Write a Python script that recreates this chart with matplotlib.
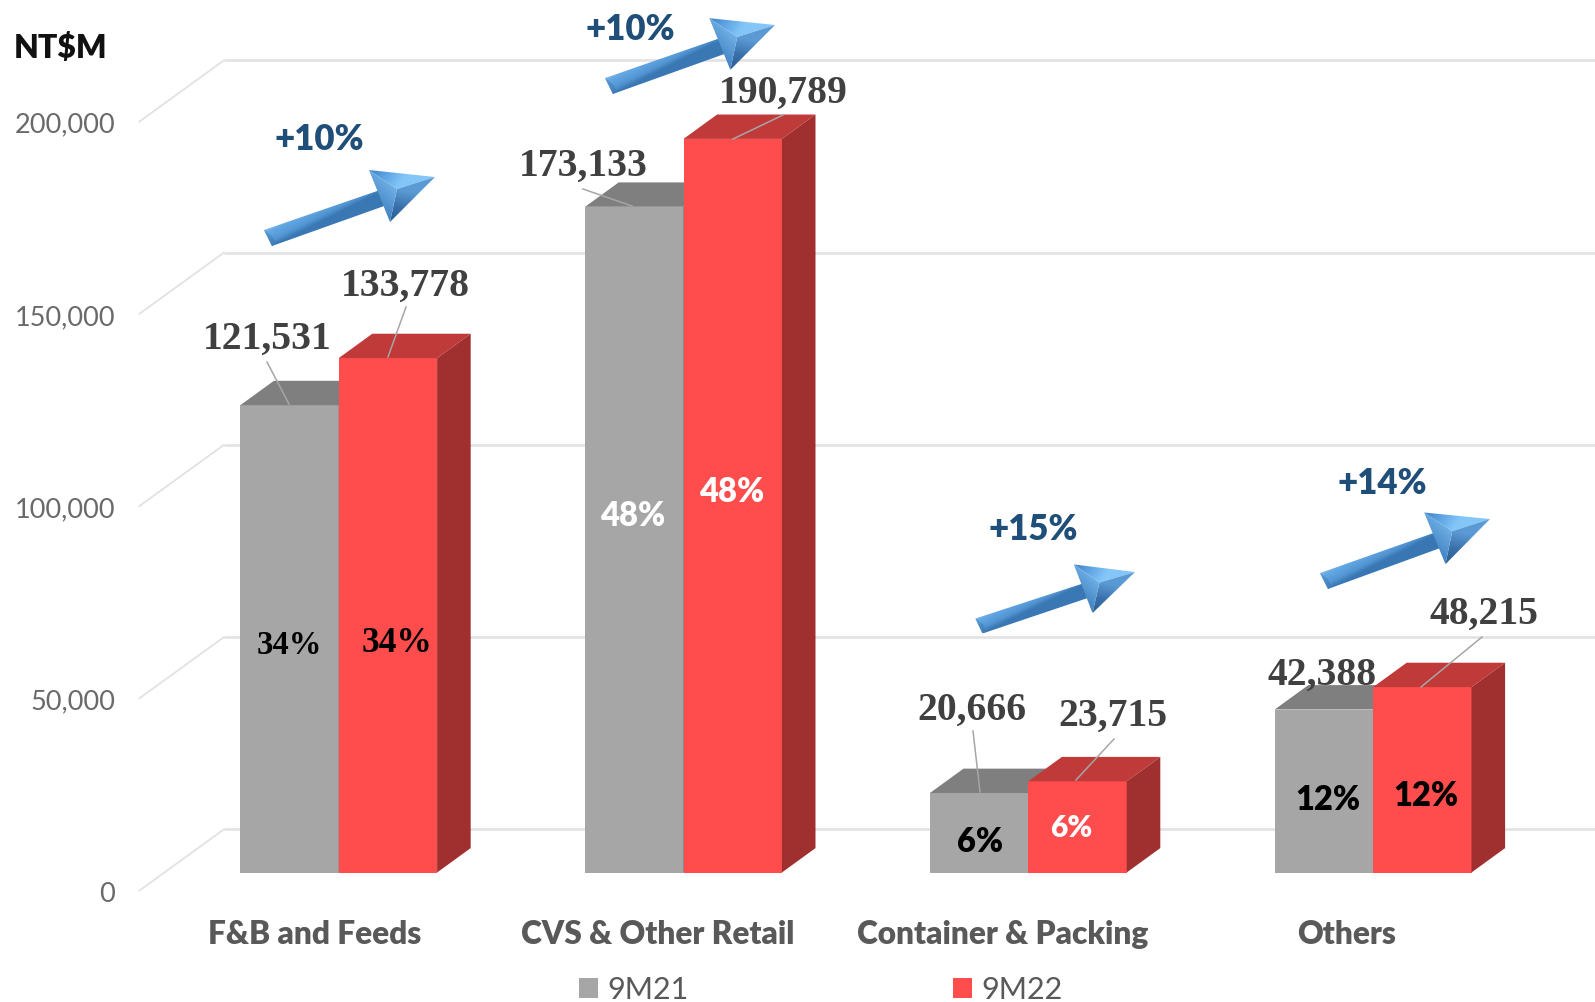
"""Grouped pseudo-3D bar chart of NT$M revenue by segment, 9M21 against 9M22."""

import matplotlib

matplotlib.use("Agg")
import matplotlib.pyplot as plt
import numpy as np
from matplotlib.colors import to_rgb
from matplotlib.patches import Polygon
from matplotlib.transforms import Affine2D

WIDTH, HEIGHT = 1595, 1003

CATEGORIES = ["F&B and Feeds", "CVS & Other Retail", "Container & Packing", "Others"]
SERIES_NAMES = ["9M21", "9M22"]
VALUES_9M21 = [121531, 173133, 20666, 42388]
VALUES_9M22 = [133778, 190789, 23715, 48215]
SHARE_9M21 = ["34%", "48%", "6%", "12%"]
SHARE_9M22 = ["34%", "48%", "6%", "12%"]
GROWTH = ["+10%", "+10%", "+15%", "+14%"]
Y_TICKS = [0, 50000, 100000, 150000, 200000]

GREY, GREY_TOP, GREY_SIDE = "#a6a6a6", "#7f7f7f", "#6e6e6e"
RED, RED_TOP, RED_SIDE = "#ff4d4d", "#c03a3a", "#a03030"
GRID = "#e2e2e2"

# axis geometry, in reference pixels
X0_PX, STEP_PX, BAR_PX = 338.7, 344.8, 98.4
Y0_PX, PX_PER_UNIT = 873.5, 3.845 / 1000
DEPTH_X_PX, DEPTH_Y_PX = 33.6, 24.4

BAR_W = BAR_PX / STEP_PX
DEPTH_X = DEPTH_X_PX / STEP_PX
DEPTH_Y = DEPTH_Y_PX / PX_PER_UNIT
WALL_FRONT = -4700
WALL_BACK = 11200

plt.rcParams["font.family"] = ["Lato", "DejaVu Sans"]

fig = plt.figure(figsize=(WIDTH / 100, HEIGHT / 100), dpi=100)
ax = fig.add_axes([0, 0, 1, 1])
ax.set_xlim(-X0_PX / STEP_PX, (WIDTH - X0_PX) / STEP_PX)
ax.set_ylim((Y0_PX - HEIGHT) / PX_PER_UNIT, Y0_PX / PX_PER_UNIT)
ax.axis("off")

# reference pixel coordinates for the annotations, y pointing down
px = Affine2D().scale(1 / WIDTH, -1 / HEIGHT).translate(0, 1) + fig.transFigure

x_right = ax.get_xlim()[1]
x_wall = (223.8 - X0_PX) / STEP_PX
x_front = (139.4 - X0_PX) / STEP_PX
for tick in Y_TICKS:
    ax.plot([x_wall, x_right], [tick + WALL_BACK] * 2, color=GRID, lw=1.9, zorder=1,
            solid_capstyle="butt")
    ax.plot([x_front, x_wall], [tick + WALL_FRONT, tick + WALL_BACK], color=GRID, lw=1.3, zorder=1)
    ax.text((115 - X0_PX) / STEP_PX, tick + WALL_FRONT - 700, f"{tick:,}", ha="right", va="center",
            fontsize=19.5, color="#6a6a6a")


def draw_bars(x, values, face, top, side, label, z):
    bars = ax.bar(x, values, BAR_W, align="edge", color=face, label=label, zorder=z)
    for left, val in zip(x, values):
        right = left + BAR_W
        ax.add_patch(Polygon(
            [(left, val), (right, val), (right + DEPTH_X, val + DEPTH_Y), (left + DEPTH_X, val + DEPTH_Y)],
            color=top, lw=0, zorder=z))
        ax.add_patch(Polygon(
            [(right, 0), (right + DEPTH_X, DEPTH_Y), (right + DEPTH_X, val + DEPTH_Y), (right, val)],
            color=side, lw=0, zorder=z))
    return bars


centers = np.arange(len(CATEGORIES))
bars_a = draw_bars(centers - BAR_W, VALUES_9M21, GREY, GREY_TOP, GREY_SIDE, SERIES_NAMES[0], 3)
bars_b = draw_bars(centers, VALUES_9M22, RED, RED_TOP, RED_SIDE, SERIES_NAMES[1], 4)


def gradient_poly(verts, p0, p1, stops, z=6):
    """Fill a pixel-space polygon with a linear colour ramp running from p0 to p1."""
    verts = np.array(verts, dtype=float)
    x0, y0 = verts.min(axis=0)
    x1, y1 = verts.max(axis=0)
    nx, ny = int((x1 - x0) * 3) + 2, int((y1 - y0) * 3) + 2
    gx, gy = np.meshgrid(np.linspace(x0, x1, nx), np.linspace(y0, y1, ny))
    d = np.array(p1, dtype=float) - np.array(p0, dtype=float)
    t = ((gx - p0[0]) * d[0] + (gy - p0[1]) * d[1]) / (d @ d)
    t = np.clip(t, 0, 1)
    pos = np.linspace(0, 1, len(stops))
    cols = np.array([to_rgb(c) for c in stops])
    rgb = np.dstack([np.interp(t, pos, cols[:, i]) for i in range(3)])
    im = ax.imshow(rgb, extent=(x0, x1, y1, y0), origin="upper", transform=px, aspect="auto",
                   interpolation="bilinear", zorder=z)
    im.set_clip_path(Polygon(verts, transform=px))


# arrow outline taken from the first arrow; the others are rotated and scaled copies
ARROW_TAIL = np.array([268.0, 239.0])
ARROW_TIP = np.array([435.0, 178.0])
ARROW_PARTS = {
    "tail_a": (264, 231), "tail_b": (272, 247),
    "neck_a": (380, 191), "neck_b": (387, 206),
    "barb_a": (369, 171), "barb_b": (390, 223),
    "core": (397, 190), "tip": (435, 178),
}


def draw_arrow(tail, tip):
    ref = complex(*(ARROW_TIP - ARROW_TAIL))
    rot = complex(tip[0] - tail[0], tip[1] - tail[1]) / ref

    def m(name):
        z = complex(*(np.array(ARROW_PARTS[name]) - ARROW_TAIL)) * rot
        return (tail[0] + z.real, tail[1] + z.imag)

    ta, tb, na, nb = m("tail_a"), m("tail_b"), m("neck_a"), m("neck_b")
    gradient_poly([ta, tb, nb, na], ta, tb, ["#7db8ea", "#62a6e2", "#5a9fdc", "#5093d0", "#3a78b4"])
    # small end cap at the tail
    cap = (ta[0] + 8, ta[1] + 6)
    gradient_poly([ta, tb, (tb[0] + 4, tb[1] - 2), cap], ta, tb, ["#5d9ed8", "#3f7cb8"], z=7)
    ba, bb, core, tp = m("barb_a"), m("barb_b"), m("core"), m("tip")
    gradient_poly([ba, tp, core], ba, core, ["#3f80c4", "#5ea4e4", "#84c6f8"], z=7)
    gradient_poly([tp, bb, core], core, bb, ["#5b9ad4", "#3a70aa", "#2b5c90"], z=7)
    gradient_poly([ba, core, bb], core, (ba[0] - 4, bb[1]), ["#6fb0e6", "#4a8ac8", "#2c5f94"], z=7)


ARROW_TAILS = [(268, 239), (609, 87), (979, 627), (1324, 582)]
ARROW_TIPS = [(435, 178), (775, 26), (1135, 573), (1490, 520)]
for tail, tip in zip(ARROW_TAILS, ARROW_TIPS):
    draw_arrow(tail, tip)

# leader lines from value labels to bar tops
LEADERS = [
    ((267, 363), (289, 405)), ((406, 308), (388, 358)),
    ((583, 190), (632, 207)), ((783, 116), (733, 140)),
    ((973, 732), (980, 793)), ((1114, 740), (1076, 781)),
    ((1482, 638), (1421, 688)),
]
for a, b in LEADERS:
    ax.plot([a[0], b[0]], [a[1], b[1]], color="#a6a6a6", lw=1.1, transform=px, zorder=5)

VALUE_POS = [(267, 339), (405, 286), (583, 166.5), (783, 93),
             (972, 710), (1112.5, 716), (1322.5, 675), (1484.5, 614)]
value_text = [v for pair in zip(VALUES_9M21, VALUES_9M22) for v in pair]
for val, (tx, ty) in zip(value_text, VALUE_POS):
    ax.text(tx, ty, f"{val:,}", transform=px, ha="center", va="center", fontsize=28.5,
            family=["Liberation Serif"], fontweight="bold", color="#404040", zorder=8)

SHARE_STYLE = [
    ((289, 645.5), "black", "Liberation Serif", 23.5), ((397, 644), "black", "Liberation Serif", 25.5),
    ((632.5, 516), "white", "Lato", 23.5), ((732, 492), "white", "Lato", 23.5),
    ((980.5, 842), "black", "Lato", 23.5), ((1071.5, 828), "white", "Lato", 21.5),
    ((1327.5, 800), "black", "Lato", 23.5), ((1426, 796), "black", "Lato", 23.5),
]
share_text = [s for pair in zip(SHARE_9M21, SHARE_9M22) for s in pair]
for s, ((tx, ty), col, fam, size) in zip(share_text, SHARE_STYLE):
    ax.text(tx, ty, s, transform=px, ha="center", va="center", fontsize=size, family=[fam],
            fontweight=800, color=col, zorder=8)

GROWTH_POS = [(319, 139), (630, 29.5), (1033.5, 530), (1382, 484)]
for g, (tx, ty) in zip(GROWTH, GROWTH_POS):
    ax.text(tx, ty, g, transform=px, ha="center", va="center", fontsize=25, fontweight=800,
            color="#1f4e79", zorder=8)

CAT_X = [315, 658, 1003, 1347]
for name, tx in zip(CATEGORIES, CAT_X):
    ax.text(tx, 935, name, transform=px, ha="center", va="center", fontsize=22.8, fontweight=800,
            color="#595959")

ax.text(14, 48, "NT$M", transform=px, ha="left", va="center", fontsize=23, fontweight=800, color="#111111")

ax.legend(handles=[bars_a, bars_b], loc="center", bbox_to_anchor=(0.5144, 0.0125), ncol=2, frameon=False,
          fontsize=22, labelcolor="#595959", handlelength=0.62, handleheight=0.62, handletextpad=0.3,
          columnspacing=8.66, borderpad=0, borderaxespad=0)

fig.savefig("out.png", dpi=100)
plt.close(fig)
